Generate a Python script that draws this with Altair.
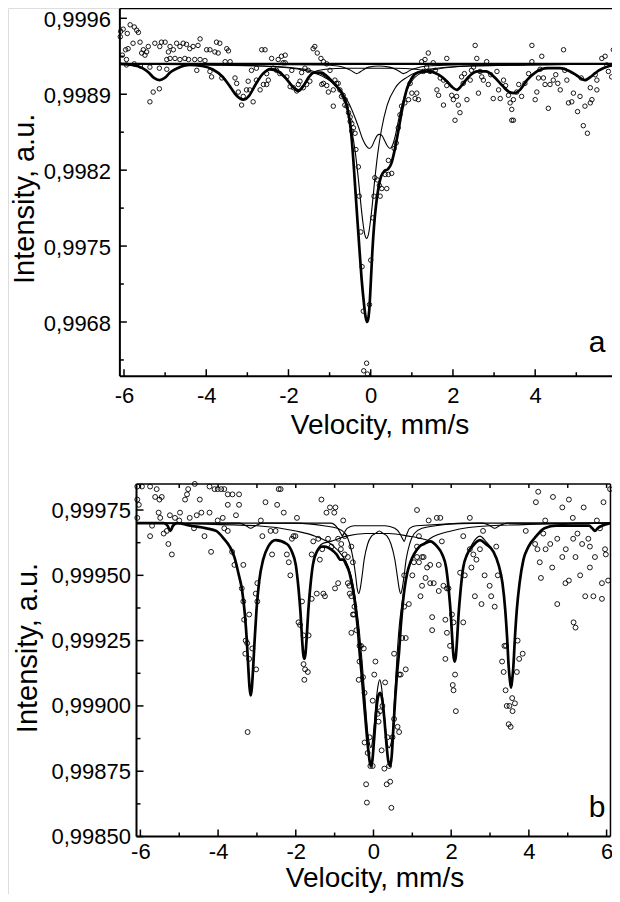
import altair as alt
import pandas as pd

FONT = "Liberation Sans"

# ---------------- axis ticks ----------------
X_MAJOR = [-6, -4, -2, 0, 2, 4, 6]
X_MINOR = [-5, -3, -1, 1, 3, 5]
X_TOP = [-6, -5, -4, -3, -2, -1, 0, 1, 2, 3, 4, 5, 6]
A_Y_MAJOR = [0.9968, 0.9975, 0.9982, 0.9989, 0.9996]
A_Y_MINOR = [0.99645, 0.99715, 0.99785, 0.99855, 0.99925]
B_Y_MAJOR = [0.9985, 0.99875, 0.999, 0.99925, 0.9995, 0.99975]
B_Y_MINOR = [0.998625, 0.998875, 0.999125, 0.999375, 0.999625]

# panel frames (data units): x from -6.1 to 6.1
A_FRAME = {"xl": -6.1, "xr": 6.1, "yb": 0.9963, "yt": 0.99969}
B_FRAME = {"xl": -6.1, "xr": 6.1, "yb": 0.9985, "yt": 0.99985}

# ---------------- panel a ----------------
A_BASE = 0.99918

A_POINTS = [
(-6.09,0.99943),(-6.08,0.99948),(-6.04,0.99926),(-6.02,0.99950),(-5.96,0.99931),(-5.94,0.99922),(-5.94,0.99917),
(-5.92,0.99946),(-5.90,0.99932),(-5.85,0.99954),(-5.78,0.99937),(-5.75,0.99952),(-5.75,0.99918),(-5.69,0.99949),
(-5.65,0.99947),(-5.61,0.99938),(-5.60,0.99916),(-5.57,0.99928),(-5.53,0.99931),(-5.49,0.99926),(-5.45,0.99929),
(-5.41,0.99934),(-5.37,0.99883),(-5.37,0.99915),(-5.29,0.99892),(-5.25,0.99937),(-5.14,0.99895),(-5.14,0.99914),
(-5.13,0.99934),(-5.09,0.99938),(-5.00,0.99938),(-4.96,0.99913),(-4.96,0.99922),(-4.92,0.99929),(-4.88,0.99934),
(-4.88,0.99923),(-4.80,0.99931),(-4.76,0.99923),(-4.72,0.99937),(-4.64,0.99934),(-4.64,0.99922),(-4.56,0.99937),
(-4.52,0.99923),(-4.48,0.99936),(-4.43,0.99922),(-4.40,0.99932),(-4.32,0.99934),(-4.28,0.99922),(-4.23,0.99912),
(-4.20,0.99935),(-4.15,0.99941),(-4.15,0.99922),(-4.03,0.99921),(-3.99,0.99931),(-3.91,0.99931),(-3.91,0.99911),
(-3.87,0.99906),(-3.79,0.99929),(-3.75,0.99938),(-3.71,0.99928),(-3.67,0.99937),(-3.62,0.99905),(-3.54,0.99920),
(-3.50,0.99932),(-3.46,0.99930),(-3.42,0.99920),(-3.30,0.99905),(-3.26,0.99900),(-3.22,0.99892),(-3.14,0.99880),
(-3.10,0.99888),(-3.02,0.99894),(-2.98,0.99902),(-2.94,0.99894),(-2.90,0.99912),(-2.86,0.99883),(-2.78,0.99903),
(-2.78,0.99914),(-2.69,0.99894),(-2.65,0.99931),(-2.61,0.99899),(-2.57,0.99931),(-2.53,0.99899),(-2.53,0.99909),
(-2.49,0.99903),(-2.41,0.99923),(-2.37,0.99914),(-2.29,0.99912),(-2.25,0.99922),(-2.21,0.99909),(-2.17,0.99925),
(-2.13,0.99919),(-2.08,0.99926),(-2.08,0.99919),(-2.04,0.99906),(-1.96,0.99897),(-1.92,0.99912),(-1.88,0.99896),
(-1.80,0.99893),(-1.76,0.99899),(-1.72,0.99902),(-1.68,0.99910),(-1.64,0.99896),(-1.60,0.99914),(-1.56,0.99899),
(-1.52,0.99912),(-1.48,0.99902),(-1.40,0.99932),(-1.36,0.99934),(-1.30,0.99928),(-1.21,0.99923),(-1.19,0.99899),
(-1.15,0.99920),(-1.15,0.99900),(-1.07,0.99918),(-1.07,0.99898),(-1.03,0.99892),(-0.99,0.99912),(-0.91,0.99894),
(-0.91,0.99879),(-0.87,0.99903),(-0.83,0.99900),(-0.79,0.99900),(-0.75,0.99894),(-0.71,0.99888),(-0.67,0.99889),
(-0.63,0.99880),(-0.62,0.99885),(-0.58,0.99879),(-0.54,0.99873),(-0.50,0.99869),(-0.50,0.99865),(-0.46,0.99863),
(-0.46,0.99856),(-0.42,0.99859),(-0.38,0.99854),(-0.36,0.99839),(-0.30,0.99823),(-0.28,0.99796),(-0.24,0.99763),
(-0.21,0.99731),(-0.18,0.99690),(-0.17,0.99635),(-0.10,0.99642),(-0.08,0.99632),(-0.03,0.99696),(0.00,0.99737),
(0.05,0.99776),(0.08,0.99796),(0.10,0.99813),(0.16,0.99811),(0.21,0.99806),(0.23,0.99796),(0.27,0.99803),
(0.35,0.99816),(0.39,0.99803),(0.43,0.99816),(0.43,0.99829),(0.51,0.99817),(0.57,0.99840),(0.62,0.99845),
(0.67,0.99859),(0.71,0.99871),(0.75,0.99879),(0.83,0.99882),(0.92,0.99885),(0.96,0.99900),(1.00,0.99891),
(1.08,0.99886),(1.12,0.99891),(1.16,0.99885),(1.24,0.99920),(1.28,0.99911),(1.32,0.99922),(1.36,0.99915),
(1.40,0.99928),(1.44,0.99911),(1.52,0.99919),(1.57,0.99912),(1.61,0.99894),(1.65,0.99889),(1.69,0.99905),
(1.77,0.99903),(1.77,0.99880),(1.85,0.99923),(1.85,0.99898),(1.97,0.99889),(2.01,0.99885),(2.05,0.99866),
(2.09,0.99888),(2.13,0.99880),(2.17,0.99873),(2.21,0.99906),(2.25,0.99900),(2.28,0.99909),(2.34,0.99885),
(2.42,0.99903),(2.45,0.99912),(2.50,0.99915),(2.54,0.99935),(2.58,0.99923),(2.62,0.99891),(2.66,0.99911),
(2.70,0.99906),(2.74,0.99903),(2.82,0.99920),(2.86,0.99899),(2.92,0.99908),(2.98,0.99886),(3.07,0.99911),
(3.11,0.99894),(3.15,0.99886),(3.23,0.99903),(3.28,0.99898),(3.35,0.99889),(3.39,0.99882),(3.43,0.99876),
(3.43,0.99866),(3.47,0.99885),(3.47,0.99866),(3.55,0.99892),(3.60,0.99899),(3.67,0.99888),(3.75,0.99900),
(3.84,0.99909),(3.92,0.99920),(3.92,0.99935),(4.00,0.99885),(4.04,0.99892),(4.08,0.99905),(4.12,0.99913),
(4.16,0.99925),(4.20,0.99905),(4.24,0.99899),(4.32,0.99877),(4.36,0.99899),(4.44,0.99903),(4.50,0.99908),
(4.55,0.99900),(4.61,0.99894),(4.69,0.99931),(4.72,0.99912),(4.77,0.99903),(4.81,0.99882),(4.89,0.99883),
(4.93,0.99891),(5.03,0.99874),(5.09,0.99888),(5.12,0.99905),(5.17,0.99861),(5.21,0.99879),(5.27,0.99854),
(5.34,0.99882),(5.34,0.99896),(5.38,0.99885),(5.46,0.99908),(5.50,0.99894),(5.50,0.99903),(5.62,0.99923),
(5.70,0.99925),(5.74,0.99917),(5.78,0.99911),(5.86,0.99906),(5.90,0.99931),(5.99,0.99912),(6.03,0.99906),
(6.07,0.99918)]

A_TOTAL = [
(-6.10,0.99918),(-5.80,0.99917),(-5.55,0.99914),(-5.40,0.99910),(-5.27,0.99905),(-5.14,0.99903),(-5.01,0.99905),
(-4.88,0.99910),(-4.70,0.99914),(-4.40,0.99917),(-4.10,0.99916),(-3.85,0.99913),(-3.60,0.99906),(-3.42,0.99897),
(-3.27,0.99889),(-3.10,0.99885),(-2.95,0.99889),(-2.80,0.99899),(-2.62,0.99909),(-2.45,0.99913),(-2.25,0.99911),
(-2.05,0.99904),(-1.90,0.99897),(-1.76,0.99893),(-1.63,0.99898),(-1.50,0.99906),(-1.38,0.99910),(-1.20,0.99910),
(-1.05,0.99906),(-0.92,0.99901),(-0.80,0.99896),(-0.68,0.99890),(-0.60,0.99882),(-0.53,0.99870),(-0.47,0.99852),
(-0.42,0.99828),(-0.37,0.99800),(-0.32,0.99772),(-0.27,0.99745),(-0.22,0.99719),(-0.17,0.99699),(-0.13,0.99686),
(-0.09,0.99680),(-0.06,0.99683),(-0.03,0.99694),(0.00,0.99715),(0.04,0.99745),(0.08,0.99768),(0.13,0.99788),
(0.19,0.99804),(0.25,0.99814),(0.33,0.99819),(0.42,0.99821),(0.50,0.99826),(0.58,0.99838),(0.68,0.99858),
(0.78,0.99879),(0.88,0.99895),(1.00,0.99905),(1.15,0.99910),(1.40,0.99911),(1.65,0.99908),(1.85,0.99902),
(1.97,0.99897),(2.09,0.99894),(2.21,0.99898),(2.38,0.99906),(2.60,0.99911),(2.80,0.99911),(3.00,0.99906),
(3.20,0.99898),(3.37,0.99892),(3.50,0.99891),(3.63,0.99894),(3.80,0.99903),(4.00,0.99910),(4.30,0.99914),
(4.60,0.99914),(4.85,0.99911),(5.02,0.99907),(5.21,0.99903),(5.38,0.99907),(5.55,0.99912),(5.80,0.99916),
(6.10,0.99918)]

A_SEXTET = [
(-6.10,0.99918),(-5.80,0.99917),(-5.55,0.99914),(-5.40,0.99910),(-5.27,0.99905),(-5.14,0.99903),(-5.01,0.99905),
(-4.88,0.99910),(-4.70,0.99914),(-4.40,0.99917),(-4.10,0.99916),(-3.85,0.99913),(-3.60,0.99906),(-3.42,0.99897),
(-3.27,0.99889),(-3.10,0.99885),(-2.95,0.99889),(-2.80,0.99899),(-2.62,0.99909),(-2.45,0.99914),(-2.25,0.99912),
(-2.05,0.99905),(-1.90,0.99898),(-1.76,0.99894),(-1.63,0.99899),(-1.50,0.99907),(-1.35,0.99911),(-1.10,0.99913),
(-0.60,0.99914),(0.00,0.99914),(0.60,0.99914),(1.10,0.99913),(1.40,0.99911),(1.65,0.99908),(1.85,0.99902),
(1.97,0.99897),(2.09,0.99894),(2.21,0.99898),(2.38,0.99906),(2.60,0.99911),(2.80,0.99911),(3.00,0.99906),
(3.20,0.99898),(3.37,0.99892),(3.50,0.99891),(3.63,0.99894),(3.80,0.99903),(4.00,0.99910),(4.30,0.99914),
(4.60,0.99914),(4.85,0.99911),(5.02,0.99907),(5.21,0.99903),(5.38,0.99907),(5.55,0.99912),(5.80,0.99916),
(6.10,0.99918)]

A_SINGLET = [
(-6.10,0.99918),(-4.10,0.99917),(-2.60,0.99916),(-1.60,0.99913),(-1.10,0.99906),(-0.80,0.99896),(-0.60,0.99880),
(-0.46,0.99857),(-0.37,0.99835),(-0.29,0.99808),(-0.23,0.99785),(-0.18,0.99769),(-0.14,0.99760),(-0.10,0.99757),
(-0.06,0.99760),(-0.02,0.99769),(0.03,0.99785),(0.09,0.99808),(0.17,0.99835),(0.26,0.99857),(0.40,0.99880),
(0.60,0.99896),(0.90,0.99906),(1.40,0.99913),(2.40,0.99916),(3.90,0.99917),(6.10,0.99918)]

A_DOUBLET1 = [
(-6.10,0.99918),(-3.50,0.99917),(-2.20,0.99915),(-1.50,0.99911),(-1.10,0.99905),(-0.85,0.99898),(-0.68,0.99890),
(-0.55,0.99883),(-0.42,0.99872),(-0.30,0.99860),(-0.20,0.99849),(-0.10,0.99842),(-0.03,0.99840),(0.03,0.99842),
(0.10,0.99848),(0.16,0.99852),(0.21,0.99853),(0.27,0.99852),(0.34,0.99847),(0.41,0.99842),(0.47,0.99840),
(0.53,0.99843),(0.60,0.99852),(0.67,0.99865),(0.76,0.99880),(0.86,0.99892),(0.98,0.99901),(1.20,0.99909),
(1.60,0.99913),(2.40,0.99916),(3.80,0.99917),(6.10,0.99918)]

A_DOUBLET2 = [
(-6.10,0.99918),(-1.20,0.99917),(-0.80,0.99916),(-0.60,0.99914),(-0.48,0.99912),(-0.40,0.99910),(-0.34,0.99909),
(-0.28,0.99910),(-0.20,0.99912),(-0.05,0.99915),(0.20,0.99916),(0.45,0.99915),(0.60,0.99913),(0.70,0.99911),
(0.79,0.99909),(0.87,0.99910),(0.95,0.99912),(1.10,0.99914),(1.35,0.99916),(2.00,0.99917),(6.10,0.99918)]

# ---------------- panel b ----------------
B_POINTS = [
(-6.08,0.99984),(-6.08,0.99979),(-6.04,0.99977),(-6.08,0.99972),(-5.96,0.99984),(-5.75,0.99984),(-5.75,0.99965),
(-5.70,0.99969),(-5.62,0.99980),(-5.58,0.99983),(-5.53,0.99974),(-5.51,0.99979),(-5.49,0.99972),(-5.45,0.99980),
(-5.40,0.99966),(-5.32,0.99967),(-5.28,0.99962),(-5.24,0.99973),(-5.19,0.99958),(-5.11,0.99972),(-5.00,0.99971),
(-4.98,0.99974),(-4.85,0.99979),(-4.80,0.99981),(-4.77,0.99983),(-4.73,0.99972),(-4.62,0.99968),(-4.60,0.99985),
(-4.55,0.99973),(-4.47,0.99979),(-4.43,0.99974),(-4.35,0.99965),(-4.22,0.99974),(-4.22,0.99984),(-4.18,0.99959),
(-4.09,0.99983),(-4.01,0.99983),(-4.01,0.99971),(-3.92,0.99983),(-3.88,0.99972),(-3.84,0.99983),(-3.84,0.99968),
(-3.75,0.99981),(-3.75,0.99977),(-3.75,0.99967),(-3.64,0.99959),(-3.63,0.99981),(-3.58,0.99954),(-3.54,0.99973),
(-3.46,0.99981),(-3.46,0.99977),(-3.39,0.99945),(-3.35,0.99954),(-3.35,0.99940),(-3.33,0.99933),(-3.30,0.99920),
(-3.29,0.99925),(-3.25,0.99924),(-3.24,0.99890),(-3.20,0.99935),(-3.20,0.99918),(-3.12,0.99922),(-3.03,0.99943),
(-3.02,0.99914),(-2.99,0.99940),(-2.99,0.99947),(-2.90,0.99971),(-2.86,0.99965),(-2.78,0.99978),(-2.65,0.99967),
(-2.61,0.99958),(-2.52,0.99967),(-2.48,0.99977),(-2.44,0.99983),(-2.39,0.99983),(-2.31,0.99974),(-2.23,0.99958),
(-2.18,0.99955),(-2.14,0.99950),(-2.10,0.99964),(-2.06,0.99965),(-2.01,0.99965),(-1.97,0.99972),(-1.93,0.99932),
(-1.89,0.99931),(-1.84,0.99940),(-1.80,0.99927),(-1.80,0.99916),(-1.78,0.99910),(-1.76,0.99914),(-1.69,0.99913),
(-1.67,0.99927),(-1.59,0.99941),(-1.59,0.99958),(-1.55,0.99963),(-1.46,0.99943),(-1.42,0.99964),(-1.38,0.99956),
(-1.34,0.99979),(-1.32,0.99960),(-1.29,0.99943),(-1.25,0.99942),(-1.21,0.99974),(-1.17,0.99964),(-1.12,0.99976),
(-1.08,0.99961),(-1.01,0.99974),(-0.99,0.99945),(-0.98,0.99976),(-0.91,0.99964),(-0.91,0.99947),(-0.84,0.99960),
(-0.83,0.99962),(-0.78,0.99971),(-0.74,0.99958),(-0.74,0.99965),(-0.66,0.99947),(-0.66,0.99957),(-0.62,0.99946),
(-0.61,0.99943),(-0.57,0.99961),(-0.57,0.99942),(-0.57,0.99928),(-0.53,0.99955),(-0.53,0.99935),(-0.50,0.99935),
(-0.49,0.99938),(-0.44,0.99929),(-0.38,0.99910),(-0.36,0.99923),(-0.36,0.99917),(-0.32,0.99923),(-0.27,0.99911),
(-0.25,0.99922),(-0.23,0.99905),(-0.23,0.99886),(-0.19,0.99870),(-0.17,0.99863),(-0.15,0.99882),(-0.10,0.99888),
(-0.08,0.99877),(-0.02,0.99877),(-0.02,0.99902),(0.02,0.99912),(0.05,0.99917),(0.11,0.99897),(0.13,0.99894),
(0.17,0.99898),(0.21,0.99883),(0.23,0.99900),(0.28,0.99876),(0.30,0.99909),(0.34,0.99870),(0.36,0.99888),
(0.40,0.99877),(0.43,0.99871),(0.46,0.99861),(0.49,0.99888),(0.53,0.99895),(0.53,0.99920),(0.62,0.99892),
(0.66,0.99890),(0.66,0.99912),(0.70,0.99912),(0.74,0.99926),(0.79,0.99938),(0.79,0.99950),(0.83,0.99914),
(0.83,0.99926),(0.91,0.99939),(1.00,0.99950),(1.04,0.99955),(1.12,0.99957),(1.12,0.99961),(1.12,0.99975),
(1.17,0.99965),(1.17,0.99955),(1.21,0.99942),(1.25,0.99946),(1.25,0.99957),(1.29,0.99957),(1.34,0.99949),
(1.38,0.99953),(1.42,0.99971),(1.46,0.99954),(1.46,0.99947),(1.51,0.99929),(1.51,0.99934),(1.55,0.99947),
(1.63,0.99972),(1.68,0.99954),(1.68,0.99944),(1.72,0.99972),(1.76,0.99963),(1.80,0.99946),(1.85,0.99933),
(1.85,0.99918),(1.89,0.99928),(1.89,0.99945),(1.93,0.99945),(1.97,0.99923),(2.02,0.99935),(2.04,0.99908),
(2.06,0.99932),(2.06,0.99906),(2.10,0.99912),(2.12,0.99898),(2.23,0.99951),(2.31,0.99932),(2.31,0.99965),
(2.35,0.99950),(2.48,0.99972),(2.48,0.99960),(2.52,0.99953),(2.57,0.99958),(2.61,0.99942),(2.65,0.99956),
(2.74,0.99960),(2.78,0.99939),(2.82,0.99967),(2.86,0.99950),(2.99,0.99946),(3.03,0.99942),(3.12,0.99938),
(3.16,0.99961),(3.20,0.99950),(3.31,0.99917),(3.35,0.99913),(3.37,0.99923),(3.40,0.99906),(3.41,0.99923),
(3.43,0.99900),(3.48,0.99893),(3.50,0.99900),(3.53,0.99892),(3.57,0.99903),(3.58,0.99898),(3.64,0.99901),
(3.69,0.99913),(3.71,0.99925),(3.75,0.99918),(3.84,0.99920),(3.92,0.99967),(4.16,0.99962),(4.18,0.99978),
(4.22,0.99960),(4.24,0.99982),(4.28,0.99955),(4.31,0.99949),(4.37,0.99966),(4.42,0.99971),(4.43,0.99960),
(4.55,0.99962),(4.60,0.99953),(4.62,0.99980),(4.73,0.99964),(4.73,0.99939),(4.86,0.99976),(4.86,0.99957),
(4.94,0.99947),(4.95,0.99960),(5.03,0.99979),(5.03,0.99948),(5.13,0.99972),(5.14,0.99964),(5.15,0.99932),
(5.20,0.99957),(5.20,0.99930),(5.25,0.99966),(5.32,0.99950),(5.37,0.99962),(5.41,0.99976),(5.45,0.99942),
(5.53,0.99964),(5.57,0.99961),(5.57,0.99953),(5.66,0.99942),(5.70,0.99957),(5.75,0.99971),(5.83,0.99968),
(5.88,0.99947),(5.88,0.99941),(5.92,0.99978),(5.96,0.99960),(5.98,0.99958),(6.04,0.99948),(6.09,0.99983)]

B_TOTAL = [
(-6.10,0.99970),(-5.60,0.99970),(-5.40,0.99970),(-5.30,0.99969),(-5.23,0.99967),(-5.16,0.99969),(-5.05,0.99970),
(-4.70,0.99969),(-4.30,0.99968),(-4.05,0.99967),(-3.85,0.99964),(-3.70,0.99961),(-3.58,0.99957),(-3.48,0.99951),
(-3.38,0.99944),(-3.31,0.99935),(-3.26,0.99925),(-3.22,0.99914),(-3.19,0.99907),(-3.16,0.99904),(-3.13,0.99907),
(-3.10,0.99914),(-3.06,0.99925),(-3.01,0.99937),(-2.94,0.99948),(-2.84,0.99956),(-2.71,0.99961),(-2.52,0.999635),
(-2.23,0.99962),(-2.10,0.99959),(-2.00,0.99954),(-1.93,0.99945),(-1.88,0.99936),(-1.84,0.99926),(-1.81,0.99920),
(-1.78,0.99918),(-1.75,0.99920),(-1.72,0.99926),(-1.68,0.99936),(-1.63,0.99945),(-1.56,0.99954),(-1.46,0.99959),
(-1.33,0.99961),(-1.25,0.99961),(-1.10,0.99960),(-0.95,0.99958),(-0.85,0.99956),(-0.78,0.99956),(-0.70,0.99954),
(-0.62,0.99951),(-0.56,0.99947),(-0.50,0.99942),(-0.45,0.99936),(-0.40,0.99929),(-0.36,0.99921),(-0.31,0.99913),
(-0.27,0.99906),(-0.23,0.99899),(-0.19,0.99892),(-0.14,0.99884),(-0.10,0.99879),(-0.07,0.99877),(-0.03,0.99879),
(0.01,0.99886),(0.06,0.99896),(0.11,0.99903),(0.17,0.99905),(0.23,0.99902),(0.28,0.99895),(0.33,0.99886),
(0.38,0.99879),(0.43,0.99877),(0.47,0.99881),(0.51,0.99891),(0.56,0.99903),(0.61,0.99913),(0.66,0.99921),
(0.70,0.99930),(0.74,0.99937),(0.80,0.99945),(0.87,0.99951),(0.95,0.99955),(1.04,0.99958),(1.18,0.99961),
(1.30,0.99962),(1.46,0.99963),(1.64,0.99961),(1.77,0.99958),(1.87,0.99953),(1.94,0.99944),(1.99,0.99935),
(2.03,0.99925),(2.06,0.99919),(2.09,0.99917),(2.12,0.99919),(2.15,0.99925),(2.19,0.99935),(2.24,0.99944),
(2.31,0.99953),(2.41,0.99958),(2.54,0.99961),(2.74,0.999635),(2.89,0.99962),(3.09,0.99959),(3.22,0.99954),
(3.32,0.99947),(3.39,0.99937),(3.44,0.99926),(3.48,0.99915),(3.51,0.99910),(3.54,0.99907),(3.57,0.99910),
(3.60,0.99915),(3.64,0.99926),(3.69,0.99937),(3.76,0.99947),(3.86,0.99956),(3.99,0.99961),(4.19,0.99965),
(4.40,0.99968),(4.70,0.99969),(5.05,0.99969),(5.40,0.99969),(5.55,0.99969),(5.63,0.99968),(5.70,0.99967),
(5.77,0.99968),(5.88,0.99969),(6.10,0.99970)]

B_SEXTET = [
(-6.10,0.99970),(-5.60,0.99970),(-5.05,0.99970),(-4.70,0.99969),(-4.30,0.99968),(-4.05,0.99967),(-3.85,0.99964),
(-3.70,0.99961),(-3.58,0.99957),(-3.48,0.99951),(-3.38,0.99944),(-3.31,0.99935),(-3.26,0.99925),(-3.22,0.99914),
(-3.19,0.99907),(-3.16,0.99904),(-3.13,0.99907),(-3.10,0.99914),(-3.06,0.99925),(-3.01,0.99937),(-2.94,0.99948),
(-2.84,0.99956),(-2.71,0.99961),(-2.52,0.999635),(-2.23,0.99962),(-2.10,0.99959),(-2.00,0.99954),(-1.93,0.99945),
(-1.88,0.99936),(-1.84,0.99926),(-1.81,0.99920),(-1.78,0.99918),(-1.75,0.99920),(-1.72,0.99926),(-1.68,0.99936),
(-1.63,0.99945),(-1.56,0.99954),(-1.46,0.99959),(-1.33,0.99962),(-1.10,0.99963),(-0.70,0.99965),(-0.20,0.99966),
(0.40,0.99966),(0.90,0.99965),(1.25,0.99964),(1.46,0.99963),(1.64,0.99961),(1.77,0.99958),(1.87,0.99953),
(1.94,0.99944),(1.99,0.99935),(2.03,0.99925),(2.06,0.99919),(2.09,0.99917),(2.12,0.99919),(2.15,0.99925),
(2.19,0.99935),(2.24,0.99944),(2.31,0.99953),(2.41,0.99958),(2.54,0.99962),(2.74,0.99965),(2.89,0.99963),
(3.09,0.99959),(3.22,0.99954),(3.32,0.99947),(3.39,0.99937),(3.44,0.99926),(3.48,0.99915),(3.51,0.99910),
(3.54,0.99907),(3.57,0.99910),(3.60,0.99915),(3.64,0.99926),(3.69,0.99937),(3.76,0.99947),(3.86,0.99956),
(3.99,0.99961),(4.19,0.99965),(4.40,0.99968),(4.70,0.99969),(5.20,0.99970),(6.10,0.99970)]

B_DOUBLET_A = [
(-6.10,0.99970),(-2.00,0.99970),(-1.28,0.99969),(-0.93,0.99968),(-0.73,0.99966),(-0.61,0.99962),(-0.52,0.99956),
(-0.46,0.99950),(-0.42,0.99945),(-0.38,0.99943),(-0.34,0.99945),(-0.30,0.99949),(-0.24,0.99956),(-0.15,0.99962),
(-0.05,0.99965),(0.05,0.99966),(0.15,0.99967),(0.25,0.99966),(0.35,0.99965),(0.45,0.99962),(0.55,0.99956),
(0.62,0.99949),(0.66,0.99945),(0.70,0.99943),(0.74,0.99945),(0.78,0.99949),(0.84,0.99956),(0.93,0.99962),
(1.05,0.99966),(1.25,0.99968),(1.60,0.99969),(2.30,0.99970),(6.10,0.99970)]

B_DOUBLET_B = [
(-6.10,0.99970),(-3.00,0.99969),(-2.00,0.99967),(-1.50,0.99965),(-1.10,0.99962),(-0.83,0.99958),(-0.64,0.99953),
(-0.52,0.99946),(-0.43,0.99937),(-0.36,0.99928),(-0.30,0.99918),(-0.24,0.99907),(-0.19,0.99897),(-0.15,0.99890),
(-0.11,0.99886),(-0.07,0.99884),(-0.03,0.99886),(0.02,0.99893),(0.07,0.99902),(0.12,0.99908),(0.16,0.99910),
(0.20,0.99908),(0.25,0.99901),(0.30,0.99893),(0.35,0.99886),(0.40,0.99884),(0.44,0.99885),(0.47,0.99887),
(0.50,0.99891),(0.53,0.99900),(0.57,0.99910),(0.61,0.99920),(0.66,0.99930),(0.73,0.99939),(0.82,0.99947),
(0.93,0.99954),(1.10,0.99959),(1.45,0.99964),(2.00,0.99967),(3.00,0.99969),(6.10,0.99970)]

B_MINOR_C = [
(-6.10,0.99970),(-3.45,0.99970),(-3.28,0.99969),(-3.16,0.99968),(-3.04,0.99969),(-2.85,0.99970),(-1.10,0.99970),
(-0.92,0.99968),(-0.84,0.99966),(-0.80,0.99965),(-0.76,0.99966),(-0.68,0.99968),(-0.50,0.99969),(0.30,0.99969),
(0.55,0.99968),(0.68,0.99966),(0.75,0.99964),(0.79,0.99963),(0.84,0.99965),(0.93,0.99968),(1.10,0.99969),
(2.80,0.99970),(3.00,0.99969),(3.12,0.99968),(3.24,0.99969),(3.45,0.99970),(6.10,0.99970)]

# ---------------- layout (one canvas, two panels with their own scales) ----------------
W, H = 604, 886
A_XDOM = [-8.821, 5.868]
A_YDOM = [0.991526, 0.999695]
B_XDOM = [-9.4076, 6.1393]
B_YDOM = [0.99828, 1.001672]


def df(pairs, name=None):
    d = pd.DataFrame(pairs, columns=["x", "y"])
    if name is not None:
        d["c"] = name
    return d


def panel(points, thin, total, xdom, ydom, frame, ymaj, ymin, ydec,
          x_off, x_lp, x_tx, x_ty, y_off, y_lp, y_tx, y_ty, y_loff,
          letter, letter_xy, pt_size, base=None, top_ticks=False):
    X = alt.X("x:Q", scale=alt.Scale(domain=xdom, nice=False, zero=False),
              axis=alt.Axis(orient="bottom", offset=x_off, values=X_MAJOR,
                            title="Velocity, mm/s", titleX=x_tx, titleY=x_ty,
                            titleAlign="center", titleBaseline="top",
                            labelExpr="'' + datum.value", domain=False, ticks=False,
                            tickSize=0, grid=False, labelFont=FONT, labelFontSize=22,
                            labelColor="black", labelPadding=x_lp, labelFlush=False,
                            labelOverlap=False, titleFont=FONT, titleFontSize=28,
                            titleFontWeight="normal", titleColor="black"))
    Y = alt.Y("y:Q", scale=alt.Scale(domain=ydom, nice=False, zero=False),
              axis=alt.Axis(orient="left", offset=y_off, values=ymaj,
                            title="Intensity, a.u.", titleX=y_tx, titleY=y_ty,
                            titleAngle=270, titleAlign="center", titleBaseline="bottom",
                            labelExpr="replace(format(datum.value, '.%df'), '.', ',')" % ydec,
                            domain=False, ticks=False, tickSize=0, grid=False,
                            labelFont=FONT, labelFontSize=22, labelColor="black",
                            labelPadding=y_lp, labelOffset=y_loff, labelFlush=False,
                            labelOverlap=False, titleFont=FONT, titleFontSize=29,
                            titleFontWeight="normal", titleColor="black"))

    layers = []
    layers.append(alt.Chart(df(points)).mark_point(
        shape="circle", filled=False, stroke="black", strokeWidth=0.9,
        size=pt_size, opacity=1, clip=True).encode(x=X, y=Y))

    thin_df = pd.concat([df(p, n) for n, p in thin], ignore_index=True)
    layers.append(alt.Chart(thin_df).mark_line(
        color="black", strokeWidth=1.1, interpolate="monotone", clip=True).encode(
        x=X, y=Y, detail="c:N"))

    layers.append(alt.Chart(df(total)).mark_line(
        color="black", strokeWidth=2.7, interpolate="monotone", clip=True).encode(x=X, y=Y))

    if base is not None:
        layers.append(alt.Chart(pd.DataFrame(
            {"x": [frame["xl"]], "x2": [frame["xr"]], "y": [base]})).mark_rule(
            color="black", strokeWidth=2.4, clip=True).encode(
            x=X, x2=alt.X2("x2:Q"), y=Y))

    fr = pd.DataFrame({
        "x":  [frame["xl"], frame["xl"], frame["xl"], frame["xr"]],
        "x2": [frame["xr"], frame["xl"], frame["xr"], frame["xr"]],
        "y":  [frame["yt"], frame["yb"], frame["yb"], frame["yb"]],
        "y2": [frame["yt"], frame["yt"], frame["yb"], frame["yt"]],
        "w":  [1.5, 2.0, 2.0, 1.5]})
    layers.append(alt.Chart(fr).mark_rule(color="black", clip=True).encode(
        x=X, x2=alt.X2("x2:Q"), y=Y, y2=alt.Y2("y2:Q"),
        strokeWidth=alt.StrokeWidth("w:Q", scale=None)))

    # inward ticks
    def xt(vals, yv, off):
        d = pd.DataFrame({"x": vals, "y": [yv] * len(vals)})
        return alt.Chart(d).mark_rule(color="black", strokeWidth=1.5, y2Offset=off,
                                      clip=True).encode(x=X, y=Y, y2=alt.Y2("y:Q"))

    def yt(vals, xv, off):
        d = pd.DataFrame({"y": vals, "x": [xv] * len(vals)})
        return alt.Chart(d).mark_rule(color="black", strokeWidth=1.5, x2Offset=off,
                                      clip=True).encode(y=Y, x=X, x2=alt.X2("x:Q"))

    layers.append(xt(X_MAJOR, frame["yb"], -7))
    layers.append(xt(X_MINOR, frame["yb"], -4))
    layers.append(yt(ymaj, frame["xl"], 7))
    layers.append(yt(ymin, frame["xl"], 4))
    if top_ticks:
        layers.append(xt(X_TOP, frame["yt"], 4))

    lab = pd.DataFrame({"x": [letter_xy[0]], "y": [letter_xy[1]], "t": [letter]})
    layers.append(alt.Chart(lab).mark_text(
        font=FONT, fontSize=30, align="center", baseline="alphabetic", color="black").encode(
        x=X, y=Y, text="t:N"))

    return alt.layer(*layers)


panel_a = panel(
    A_POINTS,
    [("sextet", A_SEXTET), ("singlet", A_SINGLET), ("d1", A_DOUBLET1), ("d2", A_DOUBLET2)],
    A_TOTAL, A_XDOM, A_YDOM, A_FRAME, A_Y_MAJOR, A_Y_MINOR, 4,
    x_off=-517.8, x_lp=9, x_tx=371.5, x_ty=35.7,
    y_off=-112.6, y_lp=10, y_tx=-81.0, y_ty=190.3, y_loff=1.5,
    letter="a", letter_xy=(5.503, 0.996523), pt_size=20, base=A_BASE)

panel_b = panel(
    B_POINTS,
    [("sextet", B_SEXTET), ("dA", B_DOUBLET_A), ("dB", B_DOUBLET_B), ("c", B_MINOR_C)],
    B_TOTAL, B_XDOM, B_YDOM, B_FRAME, B_Y_MAJOR, B_Y_MINOR, 5,
    x_off=-57.5, x_lp=5, x_tx=366.5, x_ty=28.4,
    y_off=-128.5, y_lp=6, y_tx=-94.5, y_ty=639.5, y_loff=0,
    letter="b", letter_xy=(5.753, 0.998576), pt_size=24, top_ticks=True)

chart = alt.layer(panel_a, panel_b).resolve_scale(
    x="independent", y="independent").properties(
    width=W, height=H, autosize=alt.AutoSizeParams(type="none"), padding=0
).configure_view(strokeWidth=0).configure(background="white")

chart.save("out.html", embed_options={"renderer": "svg", "actions": False})
